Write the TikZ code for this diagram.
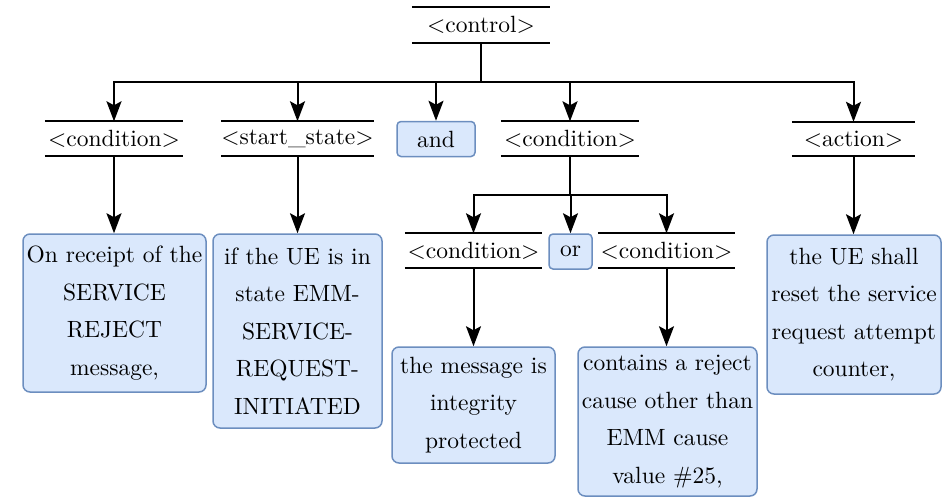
\documentclass[tikz,border=0pt]{standalone}
\usepackage{fontspec}
\setmainfont{lmroman10-regular.otf}[BoldFont=lmroman10-bold.otf]
\usetikzlibrary{arrows.meta}
\definecolor{boxfill}{HTML}{DAE8FC}
\definecolor{boxline}{HTML}{6C8EBF}
\begin{document}
\begin{tikzpicture}[x=1pt,y=-1pt,
  font=\fontsize{23.5}{37.5}\selectfont,
  tag/.style={minimum width=#1, minimum height=34pt, inner sep=0pt},
  rule/.style={line width=2pt},
  opbox/.style={draw=boxline, fill=boxfill, line width=1.5pt, rounded corners=4pt,
    minimum height=35pt, inner sep=0pt},
  leaf/.style={draw=boxline, fill=boxfill, line width=1.5pt, rounded corners=7pt,
    align=center, inner sep=1pt},
  arr/.style={line width=2pt, -{Stealth[length=20pt,width=15pt,inset=4pt]}}]
\useasboundingbox (0,0) rectangle (948,498);

% grammar symbols (text between two rules)
\node[tag=138pt, minimum height=36pt] (ctrl) at (481,25) {<control>};
\node[tag=138pt] (c1)  at (114,138.5)   {<condition>};
\node[tag=149pt] (st)  at (297.5,138.5) {<start\_state>};
\node[tag=138pt] (c2)  at (570,138.5)   {<condition>};
\node[tag=123pt] (act) at (853.5,139)   {<action>};
\node[tag=137pt] (c3)  at (473.5,250.5) {<condition>};
\node[tag=137pt] (c4)  at (666.5,250.5) {<condition>};
\foreach \n in {ctrl,c1,st,c2,act,c3,c4}
  \draw[rule] (\n.north west) -- (\n.north east) (\n.south west) -- (\n.south east);

% operators
\node[opbox, minimum width=78pt] (and) at (436,139)   {and};
\node[opbox, minimum width=43pt] (or)  at (570.5,251.5) {or};

% leaf phrases
\node[leaf, minimum width=183pt, minimum height=158pt] (l1) at (114.5,313)
  {On receipt of the\\SERVICE\\REJECT\\message,};
\node[leaf, minimum width=169pt, minimum height=194pt] (l2) at (297.5,331)
  {if the UE is in\\state EMM-\\SERVICE-\\REQUEST-\\INITIATED};
\node[leaf, minimum width=163pt, minimum height=116pt] (l3) at (473.5,405)
  {the message is\\integrity\\protected};
\node[leaf, minimum width=179pt, minimum height=149pt] (l4) at (667.5,421.5)
  {contains a reject\\cause other than\\EMM cause\\value \#25,};
\node[leaf, minimum width=174pt, minimum height=159pt] (l5) at (854,314.5)
  {the UE shall\\reset the service\\request attempt\\counter,};

% branching points
\coordinate (j1) at (481,82);
\coordinate (j2) at (570,195);

% connectors
\foreach \t in {c1,st,and,c2,act}
  \draw[arr] (ctrl.south) -- (j1) -| (\t.north);
\foreach \t in {c3,or,c4}
  \draw[arr] (c2.south) -- (j2) -| (\t.north);
\draw[arr] (c1.south)  -- (c1.south  |- l1.north);
\draw[arr] (st.south)  -- (st.south  |- l2.north);
\draw[arr] (act.south) -- (act.south |- l5.north);
\draw[arr] (c3.south)  -- (c3.south  |- l3.north);
\draw[arr] (c4.south)  -- (c4.south  |- l4.north);
\end{tikzpicture}
\end{document}
